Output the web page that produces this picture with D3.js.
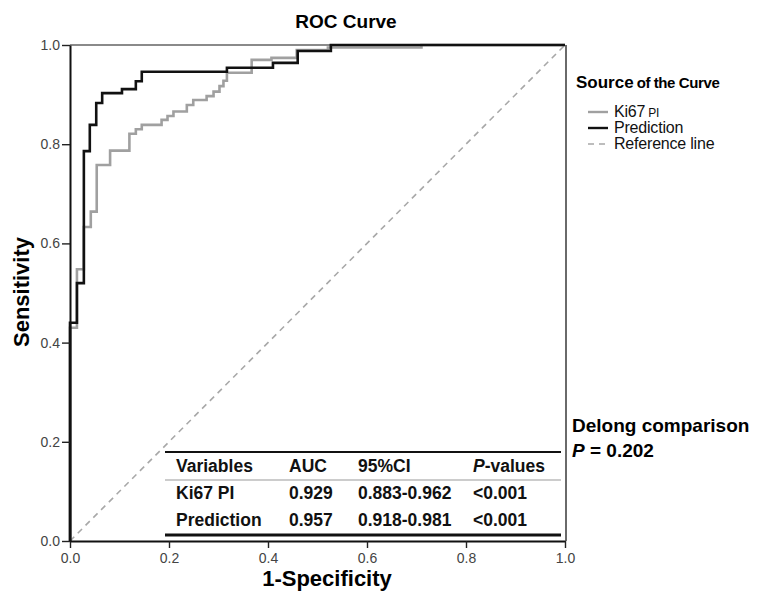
<!DOCTYPE html>
<html>
<head>
<meta charset="utf-8">
<script src="https://cdn.jsdelivr.net/npm/d3@7"></script>
<style>
  body { margin: 0; background: #fff; }
  svg { font-family: "Liberation Sans", Arial, sans-serif; }
</style>
</head>
<body>
<svg id="chart" width="762" height="592"></svg>
<script>
// ROC step corners (1-specificity, sensitivity)
const predFpr = [0, 0, 0.014, 0.028, 0.040, 0.053, 0.065, 0.105, 0.133, 0.145, 0.317, 0.410, 0.460, 0.527, 1];
const predTpr = [0, 0.44, 0.52, 0.786, 0.839, 0.883, 0.903, 0.911, 0.927, 0.946, 0.954, 0.964, 0.988, 1.0, 1];

const kiFpr = [0, 0, 0.014, 0.028, 0.042, 0.054, 0.081, 0.120, 0.133, 0.145, 0.185, 0.197, 0.209, 0.236, 0.249,
  0.276, 0.290, 0.302, 0.310, 0.317, 0.367, 0.407, 0.458, 0.521, 0.71, 1];
const kiTpr = [0, 0.43, 0.548, 0.633, 0.664, 0.758, 0.787, 0.821, 0.830, 0.839, 0.849, 0.857, 0.866, 0.879, 0.889,
  0.897, 0.906, 0.917, 0.928, 0.944, 0.970, 0.974, 0.990, 0.995, 1.0, 1];

const ticks = [0, 0.2, 0.4, 0.6, 0.8, 1.0];

const tableHead = ["Variables", "AUC", "95%CI", "P-values"];
const tableRows = [
  ["Ki67 PI", "0.929", "0.883-0.962", "<0.001"],
  ["Prediction", "0.957", "0.918-0.981", "<0.001"]
];
const delongP = "0.202";

const svg = d3.select("#chart");

const x = d3.scaleLinear().domain([0, 1]).range([70, 565]);
const y = d3.scaleLinear().domain([0, 1]).range([541, 45]);

// title
svg.append("text")
  .attr("x", 346).attr("y", 28)
  .attr("text-anchor", "middle")
  .attr("font-size", 19).attr("font-weight", "bold")
  .text("ROC Curve");

// frame: top and right in gray
svg.append("line")
  .attr("x1", x(0)).attr("x2", x(1)).attr("y1", y(1)).attr("y2", y(1))
  .attr("stroke", "#8a8a8a").attr("stroke-width", 2);
svg.append("line")
  .attr("x1", x(1) + 1).attr("x2", x(1) + 1).attr("y1", y(1)).attr("y2", y(0))
  .attr("stroke", "#6a6a6a").attr("stroke-width", 2);

// reference diagonal
svg.append("path")
  .attr("d", d3.line()([[x(0), y(0)], [x(1), y(1)]]))
  .attr("stroke", "#a8a8a8").attr("stroke-width", 1.6)
  .attr("stroke-dasharray", "6,5").attr("fill", "none");

const step = d3.line()
  .x(d => x(d[0])).y(d => y(d[1]))
  .curve(d3.curveStepAfter);

svg.append("path")
  .attr("d", step(d3.zip(kiFpr, kiTpr)))
  .attr("fill", "none").attr("stroke", "#a0a0a0").attr("stroke-width", 2.6);

svg.append("path")
  .attr("d", step(d3.zip(predFpr, predTpr)))
  .attr("fill", "none").attr("stroke", "#111").attr("stroke-width", 2.6);

// axes
const xAxis = svg.append("g")
  .attr("transform", `translate(0,${y(0)})`)
  .call(d3.axisBottom(x).tickValues(ticks).tickFormat(d3.format(".1f")).tickSize(7).tickSizeOuter(0));
const yAxis = svg.append("g")
  .attr("transform", `translate(${x(0)},0)`)
  .call(d3.axisLeft(y).tickValues(ticks).tickFormat(d3.format(".1f")).tickSize(8).tickSizeOuter(0).tickPadding(2));

[xAxis, yAxis].forEach(g => {
  g.select(".domain").attr("stroke", "#111").attr("stroke-width", 2);
  g.selectAll(".tick line").attr("stroke", "#222").attr("stroke-width", 1.4);
  g.selectAll(".tick text")
    .attr("font-family", "Liberation Sans, Arial, sans-serif")
    .attr("font-size", 14).attr("fill", "#444");
});
xAxis.selectAll(".tick text").attr("dy", "0.85em");

// axis titles
svg.append("text")
  .attr("x", 327).attr("y", 586)
  .attr("text-anchor", "middle")
  .attr("font-size", 22).attr("font-weight", "bold")
  .text("1-Specificity");
svg.append("text")
  .attr("transform", "translate(29,292) rotate(-90)")
  .attr("text-anchor", "middle")
  .attr("font-size", 22).attr("font-weight", "bold")
  .text("Sensitivity");

// legend
const lg = svg.append("g");
const src = lg.append("text").attr("x", 576).attr("y", 88).attr("font-weight", "bold");
src.append("tspan").attr("font-size", 17).text("Source");
src.append("tspan").attr("font-size", 15).attr("dx", 3).attr("letter-spacing", -0.4).text("of the Curve");

const legendItems = [
  { label: "Ki67", sub: "PI", color: "#a0a0a0", dash: null },
  { label: "Prediction", sub: null, color: "#111", dash: null },
  { label: "Reference line", sub: null, color: "#a8a8a8", dash: "6,5" }
];
legendItems.forEach((it, i) => {
  const cy = 112 + i * 16;
  lg.append("line")
    .attr("x1", 588).attr("x2", 608).attr("y1", cy).attr("y2", cy)
    .attr("stroke", it.color).attr("stroke-width", it.dash ? 1.6 : 2.4)
    .attr("stroke-dasharray", it.dash);
  const t = lg.append("text").attr("x", 614).attr("y", cy + 5)
    .attr("font-size", 16).attr("letter-spacing", -0.2).attr("fill", "#111");
  t.append("tspan").text(it.label);
  if (it.sub) t.append("tspan").attr("font-size", 12).attr("dx", 3).text(it.sub);
});

// Delong comparison note
svg.append("text")
  .attr("x", 572).attr("y", 432)
  .attr("font-size", 19).attr("font-weight", "bold")
  .text("Delong comparison");
const pt = svg.append("text")
  .attr("x", 572).attr("y", 457)
  .attr("font-size", 19).attr("font-weight", "bold");
pt.append("tspan").attr("font-style", "italic").text("P");
pt.append("tspan").text(" = " + delongP);

// AUC table
const colX = [176, 289, 358, 473];
const rowY = [466, 493, 520];
const tb = svg.append("g").attr("font-size", 17.5).attr("font-weight", "bold").attr("fill", "#111");

tb.append("line").attr("x1", 165).attr("x2", 561).attr("y1", 452).attr("y2", 452)
  .attr("stroke", "#111").attr("stroke-width", 2);
tb.append("line").attr("x1", 165).attr("x2", 561).attr("y1", 480).attr("y2", 480)
  .attr("stroke", "#999").attr("stroke-width", 1);
tb.append("line").attr("x1", 165).attr("x2", 561).attr("y1", 535).attr("y2", 535)
  .attr("stroke", "#111").attr("stroke-width", 3);

tableHead.forEach((h, j) => {
  const t = tb.append("text").attr("x", colX[j]).attr("y", rowY[0] + 6);
  if (h.startsWith("P-")) {
    t.append("tspan").attr("font-style", "italic").text("P");
    t.append("tspan").text(h.slice(1));
  } else {
    t.text(h);
  }
});
tableRows.forEach((r, i) => {
  r.forEach((v, j) => {
    tb.append("text").attr("x", colX[j]).attr("y", rowY[i + 1] + 6).text(v);
  });
});
</script>
</body>
</html>
